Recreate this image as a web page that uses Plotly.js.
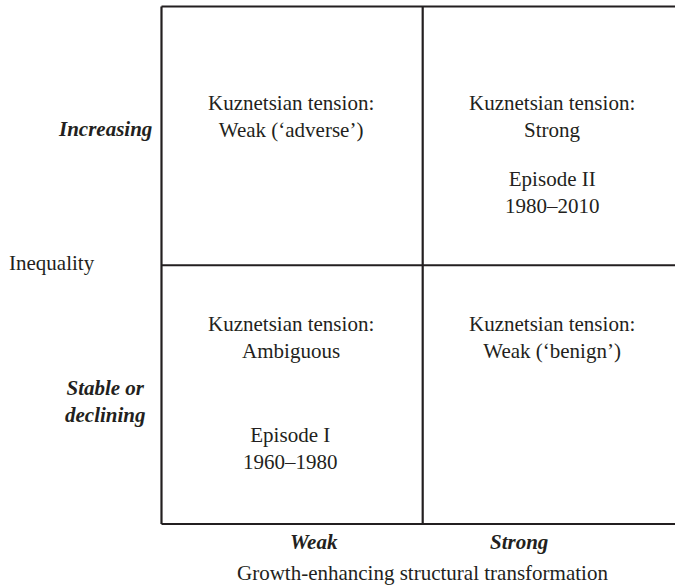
<!DOCTYPE html>
<html>
<head>
<meta charset="utf-8">
<script src="https://cdn.plot.ly/plotly-3.0.1.min.js"></script>
<style>html,body{margin:0;padding:0;background:#fff;}#chart{width:675px;height:586px;}</style>
</head>
<body>
<div id="chart"></div>
<script>
// ---- data ----
const colCategories = ['Weak', 'Strong'];                       // structural transformation
const rowCategories = ['Stable or<br>declining', 'Increasing'];  // inequality
const tensionLabels = [                                          // [row][col]
  ['Kuznetsian tension:<br>Ambiguous', 'Kuznetsian tension:<br>Weak (‘benign’)'],
  ['Kuznetsian tension:<br>Weak (‘adverse’)', 'Kuznetsian tension:<br>Strong']
];
const episodeLabels = [                                          // [row][col]
  ['Episode I<br>1960–1980', ''],
  ['', 'Episode II<br>1980–2010']
];
const xAxisTitle = 'Growth-enhancing structural transformation';
const yAxisTitle = 'Inequality';
const boundaries = [0, 1, 2];

// ---- layout constants ----
const W = 675, H = 586;
const M = {l: 157, r: 0, t: 2, b: 58};
const ink = '#231f20';
const font = {family: 'Liberation Serif, Times New Roman, serif', size: 21, color: ink};
const boldItalic = s => '<b><i>' + s + '</i></b>';
const px2paperX = p => (p - M.l) / (W - M.l - M.r);
const px2paperY = p => (H - M.b - p) / (H - M.t - M.b);
const tensionOffset = [0.72, 0.575];   // within-row vertical position per row
const episodeOffset = [0.29, 0.28];
const colLabelPx = [314, 519], colLabelRowPx = 542;
const rowLabelPx = [401.5, 129], rowLabelColPx = 105;

// grid lines built from boundaries
const gx = [], gy = [];
const lo = boundaries[0], hi = boundaries[boundaries.length - 1];
boundaries.forEach(b => { gx.push(b, b, null); gy.push(lo, hi, null); });
boundaries.forEach(b => { gx.push(lo, hi, null); gy.push(b, b, null); });

const traces = [{
  type: 'scatter', mode: 'lines', x: gx, y: gy,
  line: {color: ink, width: 2.2}, hoverinfo: 'skip', showlegend: false
}];

const annotations = [];
rowCategories.forEach((r, ri) => {
  colCategories.forEach((c, ci) => {
    annotations.push({x: ci + 0.495, y: ri + tensionOffset[ri], xref: 'x', yref: 'y',
      text: tensionLabels[ri][ci], showarrow: false, align: 'center',
      xanchor: 'center', yanchor: 'middle', font: font});
    if (episodeLabels[ri][ci]) {
      annotations.push({x: ci + 0.495, y: ri + episodeOffset[ri], xref: 'x', yref: 'y',
        text: episodeLabels[ri][ci], showarrow: false, align: 'center',
        xanchor: 'center', yanchor: 'middle', font: font});
    }
  });
  annotations.push({x: px2paperX(rowLabelColPx), y: px2paperY(rowLabelPx[ri]),
    xref: 'paper', yref: 'paper',
    text: boldItalic(r), showarrow: false, align: 'center',
    xanchor: 'center', yanchor: 'middle', font: font});
});
colCategories.forEach((c, ci) => {
  annotations.push({x: px2paperX(colLabelPx[ci]), y: px2paperY(colLabelRowPx),
    xref: 'paper', yref: 'paper',
    text: boldItalic(c), showarrow: false, xanchor: 'center', yanchor: 'middle', font: font});
});
annotations.push({x: px2paperX(422), y: px2paperY(573), xref: 'paper', yref: 'paper',
  text: xAxisTitle, showarrow: false, xanchor: 'center', yanchor: 'middle', font: font});
annotations.push({x: px2paperX(7), y: px2paperY(263), xref: 'paper', yref: 'paper',
  text: yAxisTitle, showarrow: false, xanchor: 'left', yanchor: 'middle', font: font});

const layout = {
  width: W, height: H,
  margin: {l: M.l, r: M.r, t: M.t, b: M.b, pad: 0},
  paper_bgcolor: '#fff', plot_bgcolor: '#fff',
  showlegend: false,
  xaxis: {range: [-0.0172, 1.9659], showgrid: false, zeroline: false, showticklabels: false,
          showline: false, ticks: '', fixedrange: true},
  yaxis: {range: [-0.0155, 2.0174], showgrid: false, zeroline: false, showticklabels: false,
          showline: false, ticks: '', fixedrange: true},
  annotations: annotations,
  font: font
};

Plotly.newPlot('chart', traces, layout, {displayModeBar: false, staticPlot: true});
</script>
</body>
</html>
